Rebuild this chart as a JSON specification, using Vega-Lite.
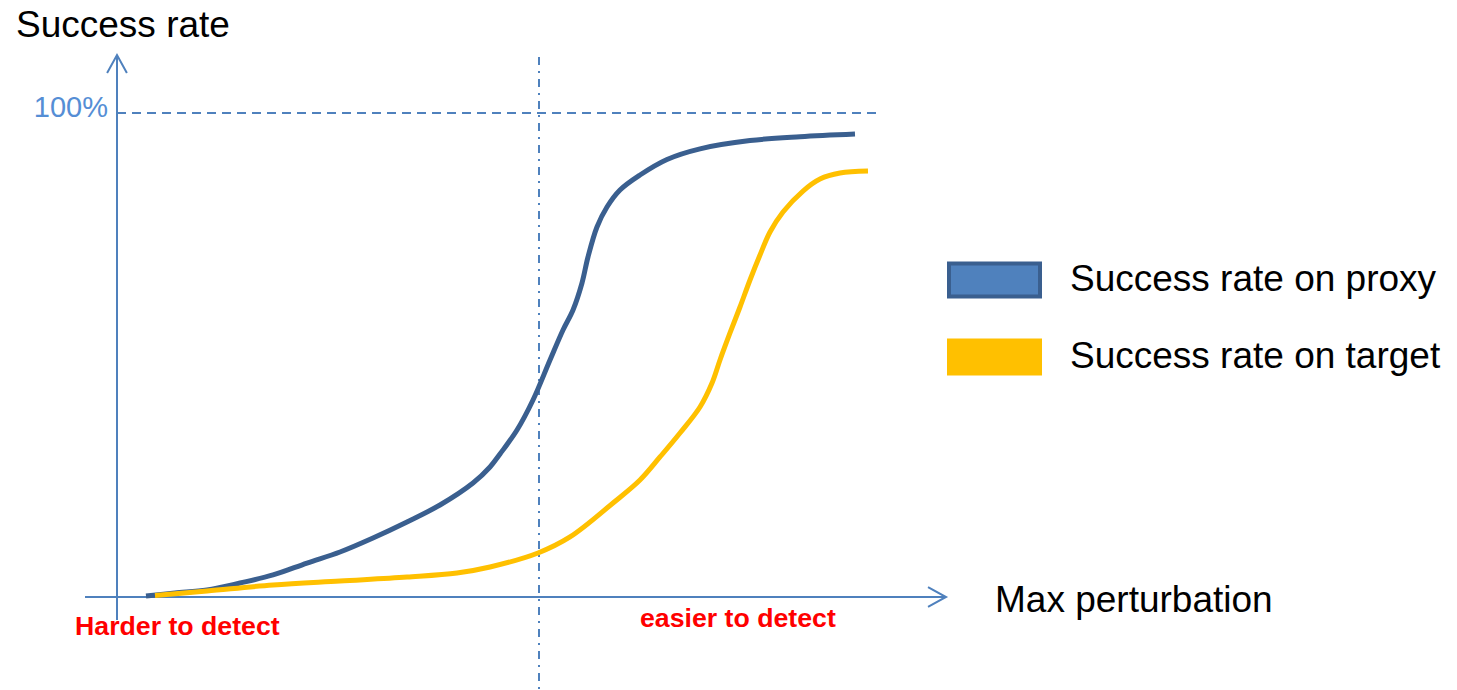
{
  "$schema": "https://vega.github.io/schema/vega-lite/v6.json",
  "width": 1457,
  "height": 690,
  "padding": 0,
  "autosize": {"type": "none"},
  "background": "white",
  "config": {"view": {"stroke": null}, "font": "Liberation Sans"},
  "datasets": {
    "curves": [
      {"series": "Success rate on proxy", "perturbation": 0.687, "rate": 0.21},
      {"series": "Success rate on proxy", "perturbation": 1.374, "rate": 0.83},
      {"series": "Success rate on proxy", "perturbation": 2.133, "rate": 1.45},
      {"series": "Success rate on proxy", "perturbation": 2.915, "rate": 2.89},
      {"series": "Success rate on proxy", "perturbation": 3.697, "rate": 4.55},
      {"series": "Success rate on proxy", "perturbation": 4.502, "rate": 7.02},
      {"series": "Success rate on proxy", "perturbation": 5.284, "rate": 9.3},
      {"series": "Success rate on proxy", "perturbation": 6.066, "rate": 12.19},
      {"series": "Success rate on proxy", "perturbation": 6.872, "rate": 15.5},
      {"series": "Success rate on proxy", "perturbation": 7.654, "rate": 19.01},
      {"series": "Success rate on proxy", "perturbation": 8.436, "rate": 23.55},
      {"series": "Success rate on proxy", "perturbation": 8.839, "rate": 26.86},
      {"series": "Success rate on proxy", "perturbation": 9.076, "rate": 29.55},
      {"series": "Success rate on proxy", "perturbation": 9.479, "rate": 34.5},
      {"series": "Success rate on proxy", "perturbation": 9.858, "rate": 40.7},
      {"series": "Success rate on proxy", "perturbation": 10.261, "rate": 48.97},
      {"series": "Success rate on proxy", "perturbation": 10.569, "rate": 55.17},
      {"series": "Success rate on proxy", "perturbation": 10.806, "rate": 59.3},
      {"series": "Success rate on proxy", "perturbation": 11.019, "rate": 64.88},
      {"series": "Success rate on proxy", "perturbation": 11.161, "rate": 70.25},
      {"series": "Success rate on proxy", "perturbation": 11.374, "rate": 76.45},
      {"series": "Success rate on proxy", "perturbation": 11.611, "rate": 80.58},
      {"series": "Success rate on proxy", "perturbation": 11.919, "rate": 84.09},
      {"series": "Success rate on proxy", "perturbation": 12.393, "rate": 87.19},
      {"series": "Success rate on proxy", "perturbation": 13.033, "rate": 90.4},
      {"series": "Success rate on proxy", "perturbation": 13.815, "rate": 92.6},
      {"series": "Success rate on proxy", "perturbation": 15.0, "rate": 94.3},
      {"series": "Success rate on proxy", "perturbation": 16.185, "rate": 95.1},
      {"series": "Success rate on proxy", "perturbation": 17.488, "rate": 95.66},
      {"series": "Success rate on target", "perturbation": 0.9, "rate": 0.31},
      {"series": "Success rate on target", "perturbation": 2.133, "rate": 1.24},
      {"series": "Success rate on target", "perturbation": 3.697, "rate": 2.48},
      {"series": "Success rate on target", "perturbation": 5.284, "rate": 3.31},
      {"series": "Success rate on target", "perturbation": 6.872, "rate": 4.13},
      {"series": "Success rate on target", "perturbation": 8.057, "rate": 4.96},
      {"series": "Success rate on target", "perturbation": 8.839, "rate": 6.2},
      {"series": "Success rate on target", "perturbation": 9.976, "rate": 9.09},
      {"series": "Success rate on target", "perturbation": 10.735, "rate": 12.4},
      {"series": "Success rate on target", "perturbation": 11.754, "rate": 19.42},
      {"series": "Success rate on target", "perturbation": 12.393, "rate": 24.17},
      {"series": "Success rate on target", "perturbation": 12.867, "rate": 28.93},
      {"series": "Success rate on target", "perturbation": 13.341, "rate": 33.88},
      {"series": "Success rate on target", "perturbation": 13.815, "rate": 39.26},
      {"series": "Success rate on target", "perturbation": 14.1, "rate": 44.21},
      {"series": "Success rate on target", "perturbation": 14.289, "rate": 48.97},
      {"series": "Success rate on target", "perturbation": 14.526, "rate": 54.55},
      {"series": "Success rate on target", "perturbation": 14.763, "rate": 59.92},
      {"series": "Success rate on target", "perturbation": 15.0, "rate": 65.5},
      {"series": "Success rate on target", "perturbation": 15.237, "rate": 70.66},
      {"series": "Success rate on target", "perturbation": 15.474, "rate": 75.41},
      {"series": "Success rate on target", "perturbation": 15.782, "rate": 79.55},
      {"series": "Success rate on target", "perturbation": 16.256, "rate": 83.88},
      {"series": "Success rate on target", "perturbation": 16.659, "rate": 86.36},
      {"series": "Success rate on target", "perturbation": 17.133, "rate": 87.6},
      {"series": "Success rate on target", "perturbation": 17.796, "rate": 88.02}
    ]
  },
  "data": {"name": "curves"},
  "layer": [
    {
      "data": {"values": [{}]},
      "mark": {"type": "rule", "color": "#4F81BD", "strokeWidth": 2},
      "encoding": {
        "x": {"datum": -0.758, "type": "quantitative", "scale": {"domain": [-2.7725, 31.7536], "nice": false, "zero": false}, "axis": null},
        "x2": {"datum": 19.6},
        "y": {"datum": 0, "type": "quantitative", "scale": {"domain": [-19.215, 123.347], "nice": false, "zero": false}, "axis": null}
      }
    },
    {
      "data": {"values": [{}]},
      "mark": {"type": "rule", "color": "#4F81BD", "strokeWidth": 2},
      "encoding": {
        "x": {"datum": 0, "type": "quantitative", "scale": {"domain": [-2.7725, 31.7536], "nice": false, "zero": false}, "axis": null},
        "y": {"datum": -4.75, "type": "quantitative", "scale": {"domain": [-19.215, 123.347], "nice": false, "zero": false}, "axis": null},
        "y2": {"datum": 111.9}
      }
    },
    {
      "data": {"values": [{}]},
      "mark": {"type": "point", "shape": "M-1,-0.55L0,0L-1,0.55", "filled": false, "size": 1296, "strokeWidth": 2, "color": "#4F81BD", "opacity": 1},
      "encoding": {
        "x": {"datum": 19.645, "type": "quantitative", "scale": {"domain": [-2.7725, 31.7536], "nice": false, "zero": false}, "axis": null},
        "y": {"datum": 0, "type": "quantitative", "scale": {"domain": [-19.215, 123.347], "nice": false, "zero": false}, "axis": null}
      }
    },
    {
      "data": {"values": [{}]},
      "mark": {"type": "point", "shape": "M-0.55,1L0,0L0.55,1", "filled": false, "size": 1296, "strokeWidth": 2, "color": "#4F81BD", "opacity": 1},
      "encoding": {
        "x": {"datum": 0, "type": "quantitative", "scale": {"domain": [-2.7725, 31.7536], "nice": false, "zero": false}, "axis": null},
        "y": {"datum": 111.98, "type": "quantitative", "scale": {"domain": [-19.215, 123.347], "nice": false, "zero": false}, "axis": null}
      }
    },
    {
      "data": {"values": [{}]},
      "mark": {"type": "rule", "color": "#4F81BD", "strokeWidth": 2, "strokeDash": [9, 6]},
      "encoding": {
        "x": {"datum": 0, "type": "quantitative", "scale": {"domain": [-2.7725, 31.7536], "nice": false, "zero": false}, "axis": null},
        "x2": {"datum": 18.104},
        "y": {"datum": 100, "type": "quantitative", "scale": {"domain": [-19.215, 123.347], "nice": false, "zero": false}, "axis": null}
      }
    },
    {
      "data": {"values": [{}]},
      "mark": {"type": "rule", "color": "#4F81BD", "strokeWidth": 2, "strokeDash": [8, 6, 2, 6]},
      "encoding": {
        "x": {"datum": 10, "type": "quantitative", "scale": {"domain": [-2.7725, 31.7536], "nice": false, "zero": false}, "axis": null},
        "y": {"datum": 111.57, "type": "quantitative", "scale": {"domain": [-19.215, 123.347], "nice": false, "zero": false}, "axis": null},
        "y2": {"datum": -19.215}
      }
    },
    {
      "mark": {"type": "line", "strokeWidth": 5, "interpolate": "catmull-rom", "strokeCap": "butt"},
      "encoding": {
        "x": {"field": "perturbation", "type": "quantitative", "scale": {"domain": [-2.7725, 31.7536], "nice": false, "zero": false}, "axis": null},
        "y": {"field": "rate", "type": "quantitative", "scale": {"domain": [-19.215, 123.347], "nice": false, "zero": false}, "axis": null},
        "color": {
          "field": "series",
          "type": "nominal",
          "scale": {"domain": ["Success rate on proxy", "Success rate on target"], "range": ["#3A5F8F", "#FFC000"]},
          "legend": {
            "title": null,
            "orient": "none",
            "legendX": 947,
            "legendY": 232.5,
            "padding": 0,
            "symbolType": "M-1,-0.363H1V0.363H-1Z",
            "symbolSize": 8281,
            "symbolStrokeWidth": 4,
            "labelFont": "Liberation Sans",
            "labelFontSize": 37,
            "labelColor": "black",
            "labelOffset": 28,
            "labelLimit": 0,
            "rowPadding": 4,
            "encode": {
              "symbols": {
                "update": {
                  "fill": {"signal": "datum.value === 'Success rate on proxy' ? '#4F81BD' : '#FFC000'"},
                  "stroke": {"signal": "datum.value === 'Success rate on proxy' ? '#385D8A' : '#FFC000'"},
                  "opacity": {"value": 1}
                }
              }
            }
          }
        }
      }
    },
    {
      "data": {"values": [{}]},
      "mark": {"type": "text", "text": "Success rate", "align": "left", "baseline": "alphabetic", "fontSize": 37, "color": "black"},
      "encoding": {
        "x": {"datum": -2.393, "type": "quantitative", "scale": {"domain": [-2.7725, 31.7536], "nice": false, "zero": false}, "axis": null},
        "y": {"datum": 115.76, "type": "quantitative", "scale": {"domain": [-19.215, 123.347], "nice": false, "zero": false}, "axis": null}
      }
    },
    {
      "data": {"values": [{}]},
      "mark": {"type": "text", "text": "100%", "align": "right", "baseline": "alphabetic", "fontSize": 29, "color": "#558ED5"},
      "encoding": {
        "x": {"datum": -0.213, "type": "quantitative", "scale": {"domain": [-2.7725, 31.7536], "nice": false, "zero": false}, "axis": null},
        "y": {"datum": 99.11, "type": "quantitative", "scale": {"domain": [-19.215, 123.347], "nice": false, "zero": false}, "axis": null}
      }
    },
    {
      "data": {"values": [{}]},
      "mark": {"type": "text", "text": "Max perturbation", "align": "left", "baseline": "alphabetic", "fontSize": 37, "color": "black"},
      "encoding": {
        "x": {"datum": 20.806, "type": "quantitative", "scale": {"domain": [-2.7725, 31.7536], "nice": false, "zero": false}, "axis": null},
        "y": {"datum": -3.16, "type": "quantitative", "scale": {"domain": [-19.215, 123.347], "nice": false, "zero": false}, "axis": null}
      }
    },
    {
      "data": {"values": [{}]},
      "mark": {"type": "text", "text": "Harder to detect", "align": "left", "baseline": "alphabetic", "fontSize": 26.7, "fontWeight": "bold", "color": "#FF0000"},
      "encoding": {
        "x": {"datum": -0.995, "type": "quantitative", "scale": {"domain": [-2.7725, 31.7536], "nice": false, "zero": false}, "axis": null},
        "y": {"datum": -7.85, "type": "quantitative", "scale": {"domain": [-19.215, 123.347], "nice": false, "zero": false}, "axis": null}
      }
    },
    {
      "data": {"values": [{}]},
      "mark": {"type": "text", "text": "easier to detect", "align": "left", "baseline": "alphabetic", "fontSize": 26.7, "fontWeight": "bold", "color": "#FF0000"},
      "encoding": {
        "x": {"datum": 12.393, "type": "quantitative", "scale": {"domain": [-2.7725, 31.7536], "nice": false, "zero": false}, "axis": null},
        "y": {"datum": -6.26, "type": "quantitative", "scale": {"domain": [-19.215, 123.347], "nice": false, "zero": false}, "axis": null}
      }
    }
  ]
}
